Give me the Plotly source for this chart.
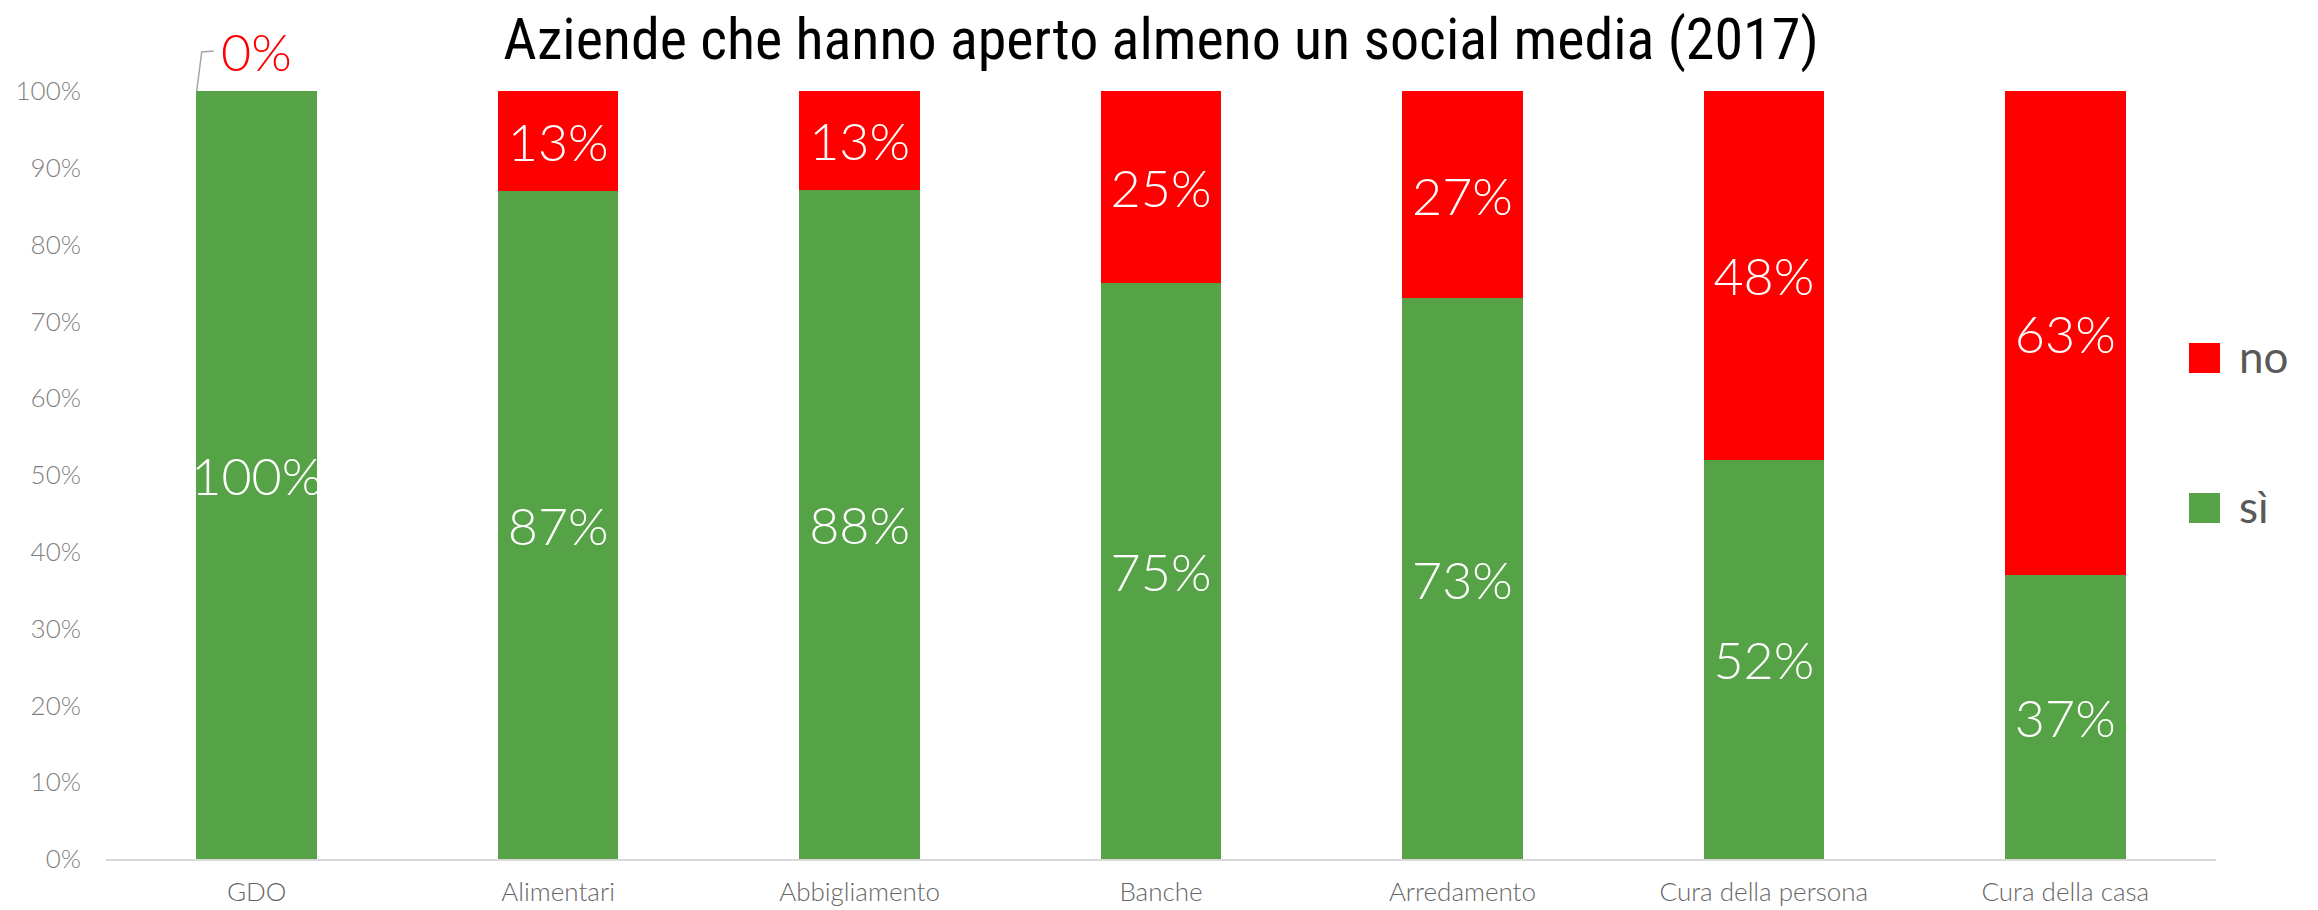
import plotly.graph_objects as go

# Share of companies with at least one social media account, by sector (2017)
categories = ["GDO", "Alimentari", "Abbigliamento", "Banche", "Arredamento",
              "Cura della persona", "Cura della casa"]
si_values = [100, 87, 88, 75, 73, 52, 37]
no_values = [0, 13, 13, 25, 27, 48, 63]
y_ticks = list(range(0, 101, 10))

GREEN = "#56A246"
RED = "#FF0000"
LIGHT = "Lato"

W, H = 2318, 910
M_L, M_R, M_T, M_B = 106, 102, 91, 51


def pct_labels(vals):
    return [f"{v}%" if v > 0 else "" for v in vals]


fig = go.Figure()
fig.add_trace(go.Bar(
    name="sì", x=categories, y=si_values, marker=dict(color=GREEN, line=dict(width=0)),
    text=pct_labels(si_values), textposition="inside", insidetextanchor="middle",
    textangle=0, constraintext="none",
    textfont=dict(family=LIGHT, size=52, color="white", weight=300),
    hoverinfo="skip", showlegend=False,
))
fig.add_trace(go.Bar(
    name="no", x=categories, y=no_values, marker=dict(color=RED, line=dict(width=0)),
    text=pct_labels(no_values), textposition="inside", insidetextanchor="middle",
    textangle=0, constraintext="none",
    textfont=dict(family=LIGHT, size=52, color="white", weight=300),
    hoverinfo="skip", showlegend=False,
))

# zero-height "no" segments get their label above the stack with a leader line
for i, (cat, v) in enumerate(zip(categories, no_values)):
    if v == 0:
        fig.add_annotation(
            x=cat, y=100, xref="x", yref="y", text=f"{v}%", showarrow=False,
            yshift=40, xanchor="center", yanchor="middle",
            font=dict(family=LIGHT, size=52, color=RED, weight=300),
        )
        # leader line from the top-left corner of the stack (top of plot = 100%)
        fig.add_shape(
            type="path", xref="x", yref="paper", xsizemode="pixel", ysizemode="pixel",
            xanchor=i, yanchor=1,
            path="M-60,0 L-55,39 L-43,40",
            line=dict(color="#A6A6A6", width=1.5),
        )

# legend: coloured squares with labels on the right of the plot
legend_items = [("no", RED, 0.6328, 0.6719), ("sì", GREEN, 0.4375, 0.4766)]
for label, color, y0, y1 in legend_items:
    fig.add_shape(type="rect", xref="paper", yref="paper",
                  x0=0.9872, x1=1.0019, y0=y0, y1=y1,
                  fillcolor=color, line=dict(width=0))
    fig.add_annotation(xref="paper", yref="paper", x=1.0099, y=(y0 + y1) / 2 + 0.003,
                       text=label, showarrow=False, xanchor="left", yanchor="middle",
                       font=dict(family=LIGHT, size=44, color="#595959", weight=400))

fig.update_layout(
    width=W, height=H,
    margin=dict(l=M_L, r=M_R, t=M_T, b=M_B),
    paper_bgcolor="white", plot_bgcolor="white",
    barmode="stack", barnorm="percent", bargap=0.6,
    showlegend=False,
    title=dict(
        text="Aziende che hanno aperto almeno un social media (2017)",
        x=0.5, xref="paper", xanchor="center",
        y=1 - 39 / H, yref="container", yanchor="middle",
        font=dict(family="Liberation Sans Narrow, Roboto Condensed, Lato", size=58, color="black"),
    ),
    xaxis=dict(
        showgrid=False, zeroline=False, showline=True, linecolor="#D9D9D9", linewidth=2,
        ticks="", ticklabelstandoff=9, automargin=False,
        tickfont=dict(family=LIGHT, size=26, color="#666666", weight=300),
    ),
    yaxis=dict(
        range=[0, 100], tickvals=y_ticks, ticktext=[f"{t}%" for t in y_ticks],
        showgrid=False, zeroline=False, showline=False, ticks="",
        ticklabelstandoff=24, automargin=False,
        tickfont=dict(family=LIGHT, size=26, color="#7F7F7F", weight=300),
    ),
)

fig.write_html("out.html")
